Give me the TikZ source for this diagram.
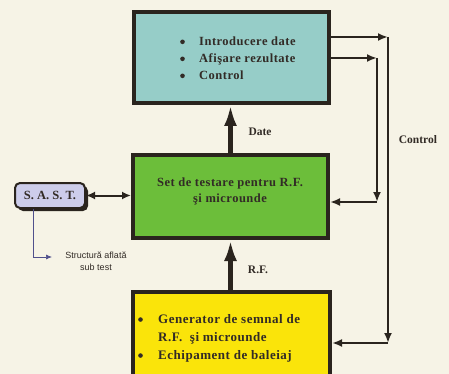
\documentclass[tikz,border=0pt]{standalone}
\usepackage{fontspec}
\setmainfont{Liberation Serif}
\newfontfamily\boxfont[LetterSpace=4]{Liberation Serif}
\newfontfamily\notefont{Liberation Sans}
\usetikzlibrary{arrows.meta,shadows}
\definecolor{bg}{RGB}{246,243,230}
\definecolor{ink}{RGB}{42,36,30}
\definecolor{txt}{RGB}{50,43,38}
\definecolor{cyanbox}{RGB}{150,205,200}
\definecolor{greenbox}{RGB}{108,190,58}
\definecolor{yellowbox}{RGB}{250,228,10}
\definecolor{lav}{RGB}{205,205,235}
\definecolor{noteblue}{RGB}{80,80,140}
\newcommand{\bigdot}{\tikz[baseline={(0,-0.6ex)}]\fill[txt] (0,0) circle (2.3pt);}
\tikzset{
  blockbox/.style={draw=ink, line width=4pt, inner sep=0pt},
  boxtext/.style={font=\boxfont\bfseries\fontsize{12.5}{17}\selectfont, text=txt, inner sep=0pt},
  bigarrow/.style={draw=ink, line width=5pt, -{Latex[length=21pt,width=13pt]}},
  ctl/.style={draw=ink, line width=2pt, -{Latex[length=10pt,width=8pt]}},
  lbl/.style={font=\bfseries\fontsize{11.5}{12}\selectfont, text=txt, inner sep=0pt},
  notelbl/.style={font=\notefont\fontsize{9}{12.5}\selectfont, text=txt, inner sep=0pt, align=center}
}
\begin{document}
\begin{tikzpicture}[x=1pt,y=-1pt]
\useasboundingbox[fill=bg] (0,0) rectangle (449,374);
% boxes
\node[blockbox, fill=cyanbox, minimum width=195pt, minimum height=91pt] (top) at (231,57.5) {};
\node[blockbox, fill=greenbox, minimum width=195pt, minimum height=83pt] (mid) at (230.5,196.5) {};
\node[blockbox, fill=yellowbox, minimum width=197pt, minimum height=100pt] (bot) at (231.5,342) {};
\node[draw=ink, line width=2pt, fill=lav, rounded corners=5pt, minimum width=70pt, minimum height=25pt, inner sep=0pt,
      drop shadow={shadow xshift=3pt, shadow yshift=-3pt, fill=ink, opacity=1},
      font=\bfseries\fontsize{12.5}{13}\selectfont, text=txt] (sast) at (50,195.5) {S. A. S. T.};
% box texts
\node[boxtext, anchor=west, align=left] (toptext) at (180,58)
  {\makebox[19pt][l]{\bigdot}Introducere date\\\makebox[19pt][l]{\bigdot}Afişare rezultate\\\makebox[19pt][l]{\bigdot}Control};
\node[boxtext, align=center, font=\boxfont\bfseries\fontsize{12.5}{16}\selectfont] (midtext) at (230,191)
  {Set de testare pentru R.F.\\şi microunde};
\node[boxtext, anchor=west, align=left, font=\boxfont\bfseries\fontsize{13}{18}\selectfont] (bottext) at (138,338)
  {\makebox[20pt][l]{\bigdot}Generator de semnal de\\\makebox[20pt][l]{}R.F.\ \ şi microunde\\\makebox[20pt][l]{\bigdot}Echipament de baleiaj};
% thick arrows
\draw[bigarrow] (mid.north) -- (mid.north |- top.south);
\draw[bigarrow] (mid.south |- bot.north) -- (mid.south);
\node[lbl] (datelbl) at (260,132) {Date};
\node[lbl] (rflbl) at (258,270) {R.F.};
% control lines
\coordinate (c1) at (388,37);
\coordinate (c2) at (388,343);
\coordinate (c3) at (377,58);
\coordinate (c4) at (377,202);
\draw[ctl] (top.east |- c1) -- (c1);
\draw[ctl] (c1) -- (c2);
\draw[ctl] (c2) -- (bot.east |- c2);
\draw[ctl] (top.east |- c3) -- (c3);
\draw[ctl] (c3) -- (c4);
\draw[ctl] (c4) -- (mid.east |- c4);
\node[lbl] (ctllbl) at (418,140) {Control};
% SAST link
\draw[draw=ink, line width=2pt, {Latex[length=9pt,width=8pt]}-{Latex[length=9pt,width=8pt]}] (sast.east) -- (sast.east -| mid.west);
\coordinate (s1) at (33,257);
\coordinate (s2) at (52,257);
\draw[noteblue, line width=0.7pt, -{Latex[length=6pt,width=5pt]}] (s1 |- sast.south) |- (s2);
\node[notelbl] (note) at (96,261) {Structură aflată\\sub test};
\end{tikzpicture}
\end{document}
